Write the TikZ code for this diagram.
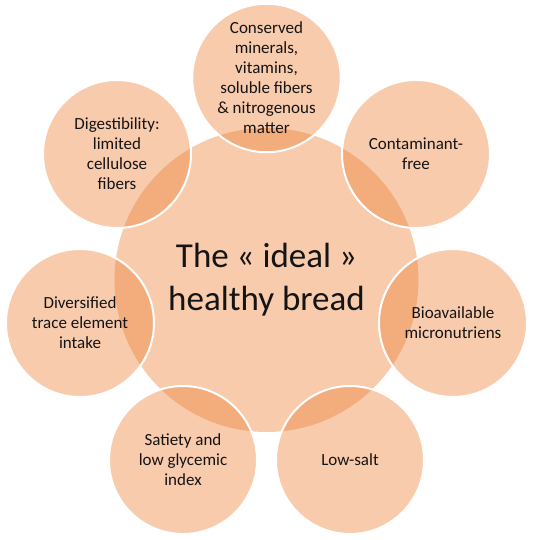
\documentclass[tikz,border=0pt]{standalone}
\usepackage{fontspec}
\setmainfont{Carlito}
\definecolor{accent}{RGB}{237,125,49}
\definecolor{ink}{RGB}{20,20,20}
\begin{document}
\begin{tikzpicture}[x=1pt,y=-1pt]
\tikzset{
  hub/.style={circle, fill=accent, fill opacity=0.4, text opacity=1, text=ink,
    minimum size=304pt, inner sep=0pt, align=center,
    font=\fontsize{35}{43}\selectfont},
  petal/.style={circle, fill=accent, fill opacity=0.4, draw=white, draw opacity=1,
    line width=2pt, text opacity=1, text=ink, minimum size=148pt, inner sep=0pt,
    align=center, font=\fontsize{17}{20}\selectfont}
}
\useasboundingbox (0,0) rectangle (547,539);
\node[hub] (hub) at (266.5,280) {The « ideal »\\healthy bread};
\node[petal] (p1) at (266.5,78) {Conserved\\minerals,\\vitamins,\\soluble fibers\\\& nitrogenous\\matter};
\node[petal] (p2) at (416,154) {Contaminant-\\free};
\node[petal] (p3) at (453,323) {Bioavailable\\micronutriens};
\node[petal] (p4) at (350,460) {Low-salt};
\node[petal] (p5) at (183,460) {Satiety and\\low glycemic\\index};
\node[petal] (p6) at (80,323) {Diversified\\trace element\\intake};
\node[petal] (p7) at (117,154) {Digestibility:\\limited\\cellulose\\fibers};
\end{tikzpicture}
\end{document}
